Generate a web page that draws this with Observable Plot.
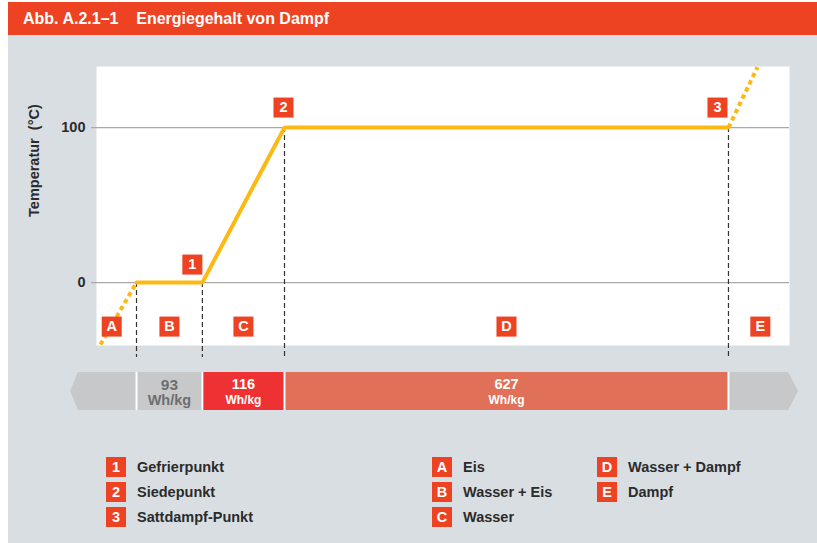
<!DOCTYPE html>
<html>
<head>
<meta charset="utf-8">
<script src="https://cdn.jsdelivr.net/npm/d3@7"></script>
<script src="https://cdn.jsdelivr.net/npm/@observablehq/plot@0.6"></script>
<style>
  body { margin:0; background:#fff; font-family:"Liberation Sans", Arial, sans-serif; }
  #wrap { position:absolute; left:8px; top:2px; width:809px; height:541px; background:#D9DEE2; overflow:hidden; }
  #title { height:33px; background:#EE4323; color:#fff; font-weight:bold; font-size:16px; line-height:33px; padding-left:15px; white-space:pre; }
  #chart svg, #bar svg { display:block; overflow:visible; }
  .lg { position:absolute; height:20px; display:flex; align-items:center; font-weight:bold; font-size:14.5px; color:#2b2b2b; }
  .lg .b { width:20px; height:20px; background:#EE4323; color:#fff; display:flex; align-items:center; justify-content:center; margin-right:11px; font-size:14.5px; }
</style>
</head>
<body>
<div id="wrap">
  <div id="title">Abb. A.2.1–1    Energiegehalt von Dampf</div>
  <div id="chart"></div>
  <div id="bar"></div>
  <div id="legend"></div>
</div>
<script>
// ---- data ----
const phases = ["A", "B", "C", "D", "E"];
const phaseNames = ["Eis", "Wasser + Eis", "Wasser", "Wasser + Dampf", "Dampf"];
const pointLabels = ["1", "2", "3"];
const pointNames = ["Gefrierpunkt", "Siedepunkt", "Sattdampf-Punkt"];
const energies = [93, 116, 627];            // Wh/kg for phases B, C, D
const energyUnit = "Wh/kg";
const curveTemps = [0, 0, 100, 100];        // °C at phase boundaries
const iceStart = {e: -51, t: -40};          // dotted extension (Eis)
const steamEnd = {e: 877, t: 139};          // dotted extension (Dampf)
const phaseMid = [-35, 46.5, 151, 522.5, 881];
const yTicks = [0, 100];

// cumulative boundaries
const bounds = [0];
energies.forEach(v => bounds.push(bounds[bounds.length - 1] + v));
const curve = bounds.map((e, i) => ({e, t: curveTemps[i]}));
const ice = [iceStart, curve[0]];
const steam = [curve[curve.length - 1], steamEnd];

const RED = "#EE4323", GOLD = "#FDB913";
const xDomain = [-56.5, 922.2];
const W = 809;

// ---- chart ----
const pointOffsets = [[-10, -18], [-1, -20], [-11, -20]];
const dotted = {stroke: GOLD, strokeWidth: 4, strokeDasharray: "4.5,3.5", strokeLinecap: "butt"};
const marks = [
  Plot.frame({fill: "white", stroke: null}),
  Plot.ruleY(yTicks, {x1: -63.6, x2: xDomain[1], stroke: "#A9A9A9", strokeWidth: 1.2}),
  Plot.ruleX(curve, {x: "e", y1: "t", y2: -48.4, stroke: "#333", strokeWidth: 1.2, strokeDasharray: "5,3"}),
  Plot.line(ice, {x: "e", y: "t", ...dotted}),
  Plot.line(steam, {x: "e", y: "t", ...dotted}),
  Plot.line(curve, {x: "e", y: "t", stroke: GOLD, strokeWidth: 4, strokeLinejoin: "miter"}),
  Plot.dot(phases, {x: (d, i) => phaseMid[i], y: -28.4, symbol: "square", r: 11.3, fill: RED, stroke: null}),
  Plot.text(phases, {x: (d, i) => phaseMid[i], y: -28.4, text: d => d, fill: "white", fontWeight: "bold", fontSize: 14.5}),
  Plot.text(["Temperatur\u00a0\u00a0(°C)"], {frameAnchor: "left", textAnchor: "middle", y: 78.7, dx: -62, rotate: -90, text: d => d, fontWeight: "bold", fontSize: 14.5, fill: "#2b2b2b"}),
  Plot.axisY(yTicks, {tickSize: 0, tickPadding: 11, fontWeight: "bold", fontSize: 14.5, fill: "#2b2b2b", label: null})
];
pointLabels.forEach((lab, i) => {
  const p = curve[i + 1];
  const [dx, dy] = pointOffsets[i];
  marks.push(Plot.dot([p], {x: "e", y: "t", dx, dy, symbol: "square", r: 11.3, fill: RED, stroke: null}));
  marks.push(Plot.text([p], {x: "e", y: "t", dx, dy, text: () => lab, fill: "white", fontWeight: "bold", fontSize: 14.5}));
});

const chart = Plot.plot({
  width: W, height: 330,
  marginLeft: 88, marginRight: 28, marginTop: 31, marginBottom: 20,
  style: {fontFamily: "'Liberation Sans', Arial, sans-serif", background: "transparent", overflow: "visible"},
  x: {domain: xDomain, axis: null},
  y: {domain: [-40.6, 139.4], axis: null},
  marks
});
document.getElementById("chart").append(chart);

// ---- energy bar ----
const GRAY = "#C7C8CA";
const segColors = [GRAY, "#EE3234", "#E07058"];
const segTextColors = ["#6D6E70", "white", "white"];
const segs = energies.map((v, i) => ({x1: bounds[i], x2: bounds[i + 1], v, mid: (bounds[i] + bounds[i + 1]) / 2, i}));
const arrowL = [{x: -93, y1: 0.5, y2: 0.5}, {x: -82, y1: 0, y2: 1}, {x: bounds[0], y1: 0, y2: 1}];
const arrowR = [{x: bounds[3], y1: 0, y2: 1}, {x: 921, y1: 0, y2: 1}, {x: 935, y1: 0.5, y2: 0.5}];

const bar = Plot.plot({
  width: W, height: 75,
  marginLeft: 88, marginRight: 28, marginTop: 7, marginBottom: 30,
  style: {fontFamily: "'Liberation Sans', Arial, sans-serif", background: "transparent", overflow: "visible"},
  x: {domain: xDomain, axis: null},
  y: {domain: [0, 1], axis: null},
  marks: [
    Plot.areaY(arrowL, {x: "x", y1: "y1", y2: "y2", fill: GRAY}),
    Plot.areaY(arrowR, {x: "x", y1: "y1", y2: "y2", fill: GRAY}),
    Plot.rectX(segs, {x1: "x1", x2: "x2", y1: 0, y2: 1, fill: d => segColors[d.i]}),
    Plot.ruleX(bounds, {y1: 0, y2: 1, stroke: "white", strokeWidth: 2}),
    Plot.text(segs, {x: "mid", y: 0.68, text: d => String(d.v), fill: d => segTextColors[d.i], fontWeight: "bold", fontSize: d => d.i === 0 ? 15.5 : 14.5}),
    Plot.text(segs, {x: "mid", y: 0.27, text: () => energyUnit, fill: d => segTextColors[d.i], fontWeight: "bold", fontSize: d => d.i === 0 ? 14.5 : 12})
  ]
});
document.getElementById("bar").append(bar);

// ---- legend ----
const legend = document.getElementById("legend");
const cols = [
  {left: 98, items: pointLabels.map((l, i) => [l, pointNames[i]])},
  {left: 424, items: phases.slice(0, 3).map((l, i) => [l, phaseNames[i]])},
  {left: 589, items: phases.slice(3).map((l, i) => [l, phaseNames[i + 3]])}
];
cols.forEach(c => c.items.forEach(([k, name], r) => {
  const el = document.createElement("div");
  el.className = "lg";
  el.style.left = c.left + "px";
  el.style.top = (455 + r * 25) + "px";
  el.innerHTML = `<span class="b">${k}</span><span>${name}</span>`;
  legend.append(el);
}));
</script>
</body>
</html>
